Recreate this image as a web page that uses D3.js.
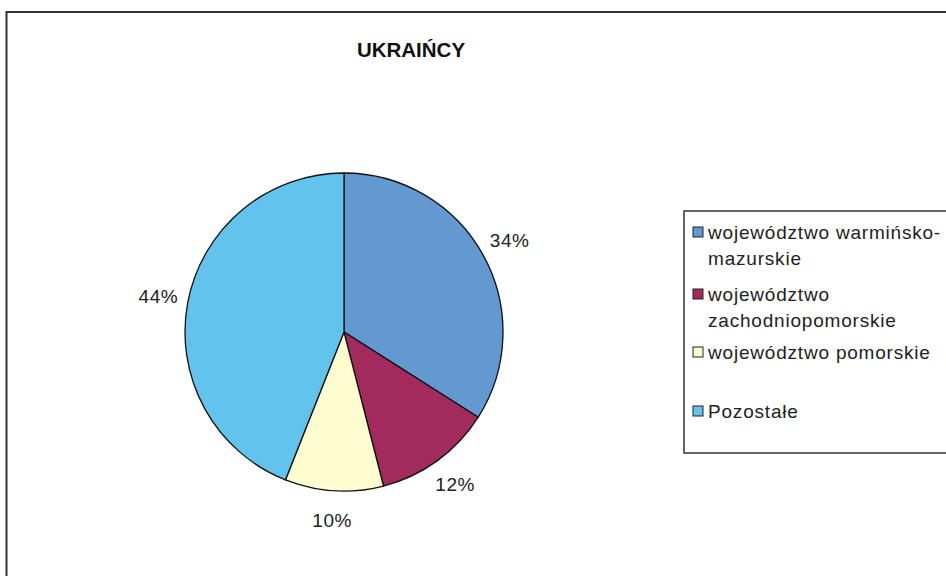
<!DOCTYPE html>
<html><head><meta charset="utf-8">
<script src="https://cdn.jsdelivr.net/npm/d3@7"></script>
<style>body{margin:0;background:#fff;}svg{display:block;font-family:"Liberation Sans",Arial,sans-serif;}</style>
</head><body>
<svg id="c" width="946" height="576"></svg>
<script>
const title = "UKRAIŃCY";
const categories = ["województwo warmińsko-mazurskie","województwo zachodniopomorskie","województwo pomorskie","Pozostałe"];
const legendLines = [["województwo warmińsko-","mazurskie"],["województwo","zachodniopomorskie"],["województwo pomorskie"],["Pozostałe"]];
const values = [34, 12, 10, 44];
const colors = ["#6199d0","#a32a5c","#fdfdd0","#62c3ec"];

const svg = d3.select("#c");
svg.append("rect").attr("x",6.5).attr("y",12).attr("width",960).attr("height",600)
  .attr("fill","none").attr("stroke","#333").attr("stroke-width",2);

svg.append("text").attr("x",411).attr("y",57).attr("text-anchor","middle")
  .attr("font-size",20.5).attr("font-weight","bold").attr("fill","#111").text(title);

const cx = 344, cy = 332, R = 159;
const pie = d3.pie().sort(null).value(d=>d);
const arcs = pie(values);
const arc = d3.arc().innerRadius(0).outerRadius(R);
const g = svg.append("g").attr("transform",`translate(${cx},${cy})`);
g.selectAll("path").data(arcs).enter().append("path")
  .attr("d",arc).attr("fill",(d,i)=>colors[i]).attr("stroke","#111").attr("stroke-width",1.3);
const labelArc = d3.arc().innerRadius(189).outerRadius(189);
g.selectAll("text").data(arcs).enter().append("text")
  .attr("transform",d=>`translate(${labelArc.centroid(d)})`)
  .attr("text-anchor","middle").attr("dominant-baseline","central")
  .attr("font-size",19).attr("letter-spacing",0.5).attr("fill","#222")
  .text(d=>d.data+"%");

svg.append("rect").attr("x",684).attr("y",211).attr("width",300).attr("height",242)
  .attr("fill","none").attr("stroke","#333").attr("stroke-width",1.5);
const itemY = [232, 294, 352, 411];
const lg = svg.append("g");
categories.forEach((c,i)=>{
  lg.append("rect").attr("x",693).attr("y",itemY[i]-5).attr("width",10).attr("height",10)
    .attr("fill",colors[i]).attr("stroke","#222").attr("stroke-width",1);
  legendLines[i].forEach((ln,j)=>{
    lg.append("text").attr("x",708).attr("y",itemY[i]+j*26).attr("dominant-baseline","central")
      .attr("font-size",19).attr("letter-spacing",0.8).attr("fill","#222").text(ln);
  });
});
</script>
</body></html>
